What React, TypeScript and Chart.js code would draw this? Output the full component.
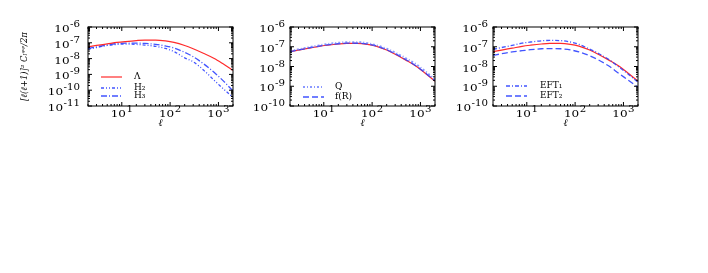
import React, { useEffect, useRef } from "react";
import { Chart, registerables } from "chart.js";
Chart.register(...registerables);

const ELL = [2, 3, 5, 8, 12, 20, 30, 50, 80, 120, 200, 300, 500, 800, 1200, 2000];
const LCDM = [5.6e-8, 6.8e-8, 8.5e-8, 1.05e-7, 1.2e-7, 1.38e-7, 1.48e-7, 1.48e-7, 1.32e-7, 1.07e-7, 6.8e-8, 4.2e-8, 2.1e-8, 1.05e-8, 5.0e-9, 1.8e-9];
const H2 = [4.0e-8, 5.0e-8, 6.8e-8, 7.9e-8, 8.3e-8, 7.9e-8, 7.2e-8, 6.0e-8, 4.4e-8, 2.8e-8, 1.12e-8, 6.3e-9, 1.8e-9, 4.5e-10, 1.4e-10, 3.5e-11];
const H3 = [4.5e-8, 5.5e-8, 7.4e-8, 8.9e-8, 9.5e-8, 9.5e-8, 9.1e-8, 7.9e-8, 6.3e-8, 4.7e-8, 2.5e-8, 1.32e-8, 4.5e-9, 1.41e-9, 4.5e-10, 8.9e-11];
const Q = [6.0e-8, 7.4e-8, 9.5e-8, 1.17e-7, 1.38e-7, 1.58e-7, 1.7e-7, 1.7e-7, 1.51e-7, 1.2e-7, 7.9e-8, 5.0e-8, 2.6e-8, 1.32e-8, 6.3e-9, 2.2e-9];
const FR = [5.7e-8, 6.9e-8, 8.7e-8, 1.07e-7, 1.24e-7, 1.42e-7, 1.52e-7, 1.5e-7, 1.36e-7, 1.1e-7, 7.1e-8, 4.4e-8, 2.2e-8, 1.1e-8, 5.2e-9, 1.9e-9];
const EFT1 = [7.4e-8, 9.1e-8, 1.17e-7, 1.51e-7, 1.74e-7, 2.0e-7, 2.1e-7, 2.04e-7, 1.74e-7, 1.32e-7, 7.6e-8, 4.7e-8, 2.24e-8, 9.5e-9, 4.5e-9, 1.6e-9];
const EFT2 = [3.7e-8, 4.4e-8, 5.5e-8, 6.3e-8, 7.1e-8, 7.9e-8, 8.1e-8, 7.9e-8, 6.9e-8, 5.5e-8, 3.5e-8, 2.2e-8, 1.05e-8, 4.5e-9, 2.2e-9, 8.9e-10];

const X_TICKS = [10, 100, 1000];
const X_TICK_EXP = ["1", "2", "3"];
const Y_TICKS_A = [1e-11, 1e-10, 1e-9, 1e-8, 1e-7, 1e-6];
const Y_TICK_EXP_A = ["-11", "-10", "-9", "-8", "-7", "-6"];
const Y_TICKS_B = [1e-10, 1e-9, 1e-8, 1e-7, 1e-6];
const Y_TICK_EXP_B = ["-10", "-9", "-8", "-7", "-6"];
const TICK_BASE = "10";

const RED = "#ff2b2b";
const BLUE = "rgba(45,65,255,0.9)";
const BLUE_LIGHT = "rgba(90,110,255,0.7)";
const SERIF = "'DejaVu Serif', serif";
const BASE_FONT = `10px ${SERIF}`;
const EXP_FONT = `8.5px ${SERIF}`;
const STRETCH = 1.2;

type Series = { label: string | null; data: number[]; color: string; dash: number[]; width: number };

const framePlugin = {
  id: "frame",
  afterDatasetsDraw(chart: any) {
    const { ctx, chartArea, scales } = chart;
    const { left, right, top, bottom } = chartArea;
    const xs = scales.x;
    const ys = scales.y;
    ctx.save();
    ctx.strokeStyle = "#000";
    ctx.lineWidth = 1;
    ctx.strokeRect(left, top, right - left, bottom - top);
    const tickX = (v: number, len: number) => {
      const p = xs.getPixelForValue(v);
      if (p < left - 0.5 || p > right + 0.5) return;
      ctx.beginPath();
      ctx.moveTo(p, bottom);
      ctx.lineTo(p, bottom - len);
      ctx.moveTo(p, top);
      ctx.lineTo(p, top + len);
      ctx.stroke();
    };
    const tickY = (v: number, len: number) => {
      const p = ys.getPixelForValue(v);
      if (p < top - 0.5 || p > bottom + 0.5) return;
      ctx.beginPath();
      ctx.moveTo(left, p);
      ctx.lineTo(left + len, p);
      ctx.moveTo(right, p);
      ctx.lineTo(right - len, p);
      ctx.stroke();
    };
    for (let d = 0; d <= 3; d++) {
      for (let k = 1; k <= 9; k++) {
        const v = k * Math.pow(10, d);
        if (v < xs.min || v > xs.max) continue;
        tickX(v, k === 1 ? 4 : 2);
      }
    }
    for (let d = -12; d <= -6; d++) {
      for (let k = 1; k <= 9; k++) {
        const v = k * Math.pow(10, d);
        if (v < ys.min * 0.999 || v > ys.max * 1.001) continue;
        tickY(v, k === 1 ? 4 : 2);
      }
    }
    ctx.restore();
  },
};

function drawStretched(ctx: any, text: string, font: string, x: number, y: number) {
  ctx.save();
  ctx.font = font;
  ctx.translate(x, y);
  ctx.scale(STRETCH, 1);
  ctx.fillText(text, 0, 0);
  ctx.restore();
}

function widthOf(ctx: any, text: string, font: string) {
  ctx.font = font;
  return ctx.measureText(text).width * STRETCH;
}

// power-of-ten tick labels placed with the chart's own scales
const tickLabelPlugin = {
  id: "powLabels",
  afterDraw(chart: any, _args: any, opts: any) {
    const { ctx, chartArea, scales } = chart;
    ctx.save();
    ctx.fillStyle = "#000";
    ctx.textBaseline = "alphabetic";
    ctx.textAlign = "left";
    opts.xTicks.forEach((v: number, i: number) => {
      const px = scales.x.getPixelForValue(v);
      const wb = widthOf(ctx, TICK_BASE, BASE_FONT);
      const we = widthOf(ctx, opts.xExp[i], EXP_FONT);
      const x0 = px - (wb + we + 0.5) / 2;
      const base = chartArea.bottom + 11;
      drawStretched(ctx, TICK_BASE, BASE_FONT, x0, base);
      drawStretched(ctx, opts.xExp[i], EXP_FONT, x0 + wb + 0.5, base - 5);
    });
    opts.yTicks.forEach((v: number, i: number) => {
      const py = scales.y.getPixelForValue(v);
      const wb = widthOf(ctx, TICK_BASE, BASE_FONT);
      const we = widthOf(ctx, opts.yExp[i], EXP_FONT);
      const xr = chartArea.left - opts.yGap;
      const x0 = xr - we - wb - 0.5;
      const base = py + 5;
      drawStretched(ctx, TICK_BASE, BASE_FONT, x0, base);
      drawStretched(ctx, opts.yExp[i], EXP_FONT, x0 + wb + 0.5, base - 5);
    });
    ctx.restore();
  },
};

const legendPlugin = {
  id: "miniLegend",
  afterDraw(chart: any, _args: any, opts: any) {
    if (!opts || !opts.items) return;
    const { ctx, chartArea } = chart;
    ctx.save();
    ctx.textBaseline = "middle";
    ctx.fillStyle = "#000";
    opts.items.forEach((it: any, i: number) => {
      const y = chartArea.bottom - opts.offsets[i];
      ctx.strokeStyle = it.color;
      ctx.lineWidth = it.width;
      ctx.setLineDash(it.dash);
      ctx.beginPath();
      ctx.moveTo(chartArea.left + opts.lineStart, y);
      ctx.lineTo(chartArea.left + opts.lineEnd, y);
      ctx.stroke();
      ctx.setLineDash([]);
      ctx.font = `9px ${SERIF}`;
      ctx.fillText(it.label, chartArea.left + opts.textX, y);
    });
    ctx.restore();
  },
};

type PanelProps = {
  series: Series[];
  yTicks: number[];
  yExp: string[];
  yTitle: string | null;
  yAxisWidth: number;
  rightPad: number;
  width: number;
  legendOffsets: number[];
  legendTextX: number;
  yGap: number;
};

function Panel(props: PanelProps) {
  const ref = useRef<HTMLCanvasElement>(null);
  useEffect(() => {
    if (!ref.current) return;
    const { series, yTicks, yExp, yTitle, yAxisWidth, rightPad, legendOffsets, legendTextX, yGap } = props;
    const chart = new Chart(ref.current, {
      type: "line",
      data: {
        datasets: series.map((s) => ({
          label: s.label ?? "",
          data: ELL.map((l, i) => ({ x: l, y: s.data[i] })),
          borderColor: s.color,
          borderWidth: s.width,
          borderDash: s.dash,
          pointRadius: 0,
          fill: false,
          cubicInterpolationMode: "monotone" as const,
        })),
      },
      plugins: [framePlugin, tickLabelPlugin, legendPlugin],
      options: {
        responsive: false,
        animation: false,
        layout: { padding: { top: 27, right: rightPad, left: 0, bottom: 0 } },
        plugins: {
          legend: { display: false },
          tooltip: { enabled: false },
          powLabels: { xTicks: X_TICKS, xExp: X_TICK_EXP, yTicks, yExp, yGap },
          miniLegend: {
            items: series
              .filter((s) => s.label)
              .map((s) => ({ label: s.label, color: s.color, dash: s.dash, width: s.width })),
            offsets: legendOffsets,
            lineStart: 13,
            lineEnd: 34,
            textX: legendTextX,
          },
        } as any,
        scales: {
          x: {
            type: "logarithmic",
            min: 2,
            max: 2000,
            grid: { display: false },
            border: { display: false },
            afterBuildTicks: (scale: any) => {
              scale.ticks = X_TICKS.map((v) => ({ value: v }));
            },
            afterFit: (scale: any) => {
              scale.height = 24;
            },
            ticks: { display: false },
            title: {
              display: true,
              text: "ℓ",
              color: "#000",
              font: { family: SERIF, size: 10, style: "italic" },
              padding: { top: 0, bottom: 1 },
            },
          },
          y: {
            type: "logarithmic",
            min: yTicks[0],
            max: yTicks[yTicks.length - 1],
            grid: { display: false },
            border: { display: false },
            afterBuildTicks: (scale: any) => {
              scale.ticks = yTicks.map((v) => ({ value: v }));
            },
            afterFit: (scale: any) => {
              scale.width = yAxisWidth;
            },
            ticks: { display: false },
            title: {
              display: !!yTitle,
              text: yTitle ?? "",
              color: "#000",
              font: { family: SERIF, size: 8.5, style: "italic" },
              padding: { top: 20, bottom: 0 },
            },
          },
        },
      },
    });
    return () => chart.destroy();
  }, []);
  return (
    <canvas
      ref={ref}
      width={props.width}
      height={130}
      style={{ width: props.width, height: 130, display: "block" }}
    />
  );
}

export default function App() {
  const panel1: Series[] = [
    { label: "Λ", data: LCDM, color: RED, dash: [], width: 1.2 },
    { label: "H₂", data: H2, color: BLUE, dash: [3, 2, 1, 2, 1, 2], width: 1.3 },
    { label: "H₃", data: H3, color: BLUE, dash: [6, 2, 1, 2], width: 1.3 },
  ];
  const panel2: Series[] = [
    { label: "Q", data: Q, color: BLUE_LIGHT, dash: [2, 2, 1, 2], width: 2 },
    { label: "f(R)", data: FR, color: BLUE, dash: [6, 3], width: 1.3 },
    { label: null, data: LCDM, color: RED, dash: [], width: 1.2 },
  ];
  const panel3: Series[] = [
    { label: "EFT₁", data: EFT1, color: BLUE, dash: [4, 2, 1, 2], width: 1.3 },
    { label: "EFT₂", data: EFT2, color: BLUE, dash: [6, 3], width: 1.3 },
    { label: null, data: LCDM, color: RED, dash: [], width: 1.2 },
  ];
  return (
    <div style={{ position: "absolute", left: 0, top: 0, width: 708, height: 273, background: "#fff" }}>
      <div style={{ position: "absolute", left: 0, top: 0 }}>
        <Panel
          series={panel1}
          yTicks={Y_TICKS_A}
          yExp={Y_TICK_EXP_A}
          yTitle={"[ℓ(ℓ+1)]² Cₗᵠᵠ/2π"}
          yAxisWidth={88}
          rightPad={7}
          width={240}
          legendOffsets={[29, 18, 10]}
          legendTextX={46}
          yGap={8}
        />
      </div>
      <div style={{ position: "absolute", left: 240, top: 0 }}>
        <Panel
          series={panel2}
          yTicks={Y_TICKS_B}
          yExp={Y_TICK_EXP_B}
          yTitle={null}
          yAxisWidth={50}
          rightPad={5}
          width={200}
          legendOffsets={[19, 9]}
          legendTextX={45}
          yGap={5}
        />
      </div>
      <div style={{ position: "absolute", left: 443, top: 0 }}>
        <Panel
          series={panel3}
          yTicks={Y_TICKS_B}
          yExp={Y_TICK_EXP_B}
          yTitle={null}
          yAxisWidth={50}
          rightPad={7}
          width={202}
          legendOffsets={[20, 10]}
          legendTextX={47}
          yGap={5}
        />
      </div>
    </div>
  );
}
